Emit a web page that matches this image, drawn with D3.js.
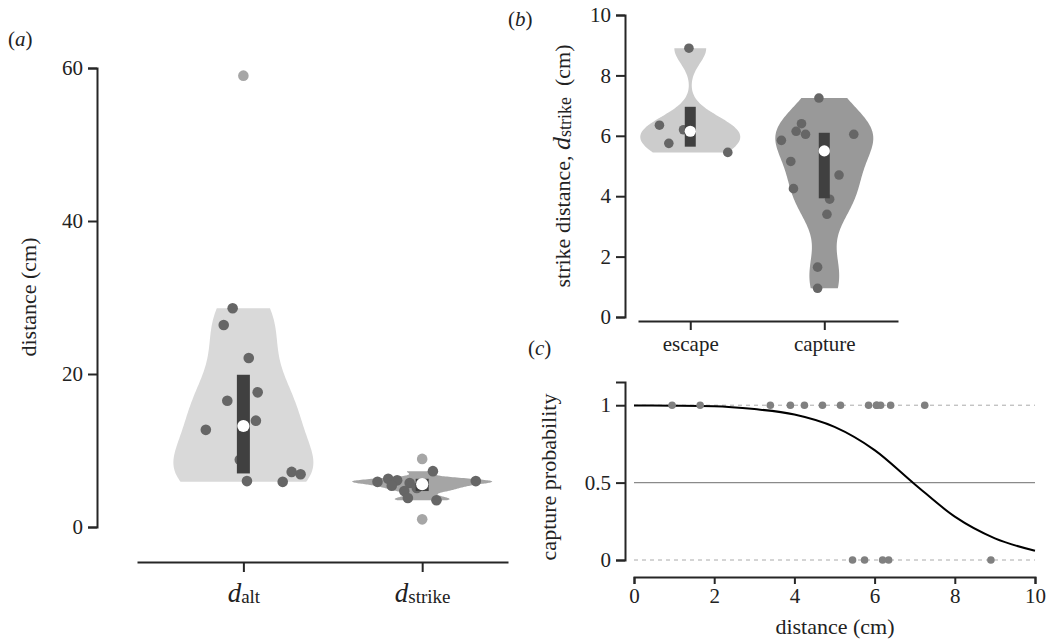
<!DOCTYPE html>
<html>
<head>
<meta charset="utf-8">
<script src="https://cdn.jsdelivr.net/npm/d3@7"></script>
<style>
  body { margin: 0; background: #fff; }
</style>
</head>
<body>
<div id="chart"></div>
<script>
// ---- panel (a): all distances ----
const altValues   = [28.6, 26.4, 22.1, 17.6, 16.5, 13.9, 12.7, 8.8, 6.0, 5.9, 7.2, 6.9];
const altJitter   = [-0.06, -0.11, 0.03, 0.08, -0.09, 0.07, -0.21, -0.02, 0.02, 0.22, 0.27, 0.32];
const altOutliers = [59.0];
const strikeValues   = [7.3, 5.9, 6.3, 6.1, 5.4, 5.75, 4.7, 3.8, 5.1, 3.5, 6.0];
const strikeJitter   = [0.06, -0.25, -0.19, -0.14, -0.17, -0.07, -0.10, -0.08, -0.03, 0.08, 0.30];
const strikeOutliers = [8.9, 1.0];
// box stats: [q1, median, q3]
const altBox    = [7.0, 13.2, 19.9];
const strikeBox = [4.7, 5.6, 6.3];
const aTicks = [0, 20, 40, 60];

// ---- panel (b): strike distance by outcome ----
const outcomes = ["escape", "capture"];
const escapeValues  = [8.9, 6.35, 5.75, 6.2, 5.45];
const escapeJitter  = [-0.01, -0.23, -0.16, -0.05, 0.28];
const captureValues = [7.25, 6.4, 6.15, 6.05, 5.85, 5.15, 4.25, 4.7, 3.9, 3.4, 1.65, 0.95, 6.05];
const captureJitter = [-0.04, -0.17, -0.21, -0.14, -0.32, -0.25, -0.23, 0.11, 0.04, 0.02, -0.05, -0.05, 0.22];
const escapeBox  = [5.64, 6.15, 6.96];
const captureBox = [3.93, 5.5, 6.1];
const bTicks = [0, 2, 4, 6, 8, 10];

// ---- panel (c): capture probability vs distance ----
const curveDist = [0, 1, 2, 3, 4, 5, 6, 7, 8, 9, 10];
const curveProb = [0.998, 0.997, 0.994, 0.975, 0.94, 0.86, 0.71, 0.49, 0.28, 0.14, 0.06];
const cYTicks = [0, 0.5, 1];
const cXTicks = [0, 2, 4, 6, 8, 10];

const serif = "'Liberation Serif', 'DejaVu Serif', 'Times New Roman', Times, serif";

const svg = d3.select("#chart").append("svg")
    .attr("width", 1053)
    .attr("height", 640)
    .style("font-family", serif);

const dark = "#262626";

function styleAxis(g) {
    g.attr("font-family", serif).attr("font-size", null);
    g.select(".domain").attr("stroke", dark).attr("stroke-width", 2);
    g.selectAll(".tick line").attr("stroke", dark).attr("stroke-width", 2);
    g.selectAll(".tick text").attr("font-size", 21).attr("fill", "#222");
}

// gaussian kde between min and max of the data, scaled to a max half width
function violinPath(values, bw, halfW, x, y, idx) {
    const [lo, hi] = d3.extent(values);
    const pts = d3.range(81).map(i => {
        const v = lo + (hi - lo) * i / 80;
        return { v: v, d: d3.sum(values, s => Math.exp(-0.5 * ((v - s) / bw) ** 2)) };
    });
    const m = d3.max(pts, p => p.d);
    return d3.area()
        .y(p => y(p.v))
        .x0(p => x(idx) - p.d / m * halfW)
        .x1(p => x(idx) + p.d / m * halfW)
        .curve(d3.curveCatmullRom)(pts);
}

function drawGroup(g, x, y, idx, values, jitter, outliers, box, opt) {
    g.append("path")
        .attr("d", violinPath(values, opt.bw, opt.halfW, x, y, idx))
        .attr("fill", opt.fill);
    g.selectAll(null)
        .data(outliers)
        .enter()
        .append("circle")
        .attr("cx", x(idx))
        .attr("cy", d => y(d))
        .attr("r", opt.r)
        .attr("fill", "#a6a6a6");
    g.selectAll(null)
        .data(values)
        .enter()
        .append("circle")
        .attr("cx", (d, i) => x(idx + jitter[i]))
        .attr("cy", d => y(d))
        .attr("r", opt.r)
        .attr("fill", "#666");
    g.append("rect")
        .attr("x", x(idx) - opt.boxW / 2)
        .attr("width", opt.boxW)
        .attr("y", y(box[2]))
        .attr("height", y(box[0]) - y(box[2]))
        .attr("fill", "#404040");
    g.append("circle")
        .attr("cx", x(idx))
        .attr("cy", y(box[1]))
        .attr("r", opt.r + 0.8)
        .attr("fill", "#fff");
}

function panelLetter(x, y, letter) {
    const t = svg.append("text").attr("x", x).attr("y", y)
        .attr("font-size", 21).attr("fill", "#222");
    t.append("tspan").text("(");
    t.append("tspan").attr("font-style", "italic").text(letter);
    t.append("tspan").text(")");
}

function axisTitle(transform, str) {
    return svg.append("text")
        .attr("transform", transform)
        .attr("text-anchor", "middle")
        .attr("font-size", 22)
        .attr("fill", "#222")
        .text(str);
}

// ================= panel (a) =================
const xA = d3.scaleLinear().domain([-0.595, 1.48]).range([137, 508]);
const yA = d3.scaleLinear().domain([0, 60]).range([527, 68]);
const gA = svg.append("g");

drawGroup(gA, xA, yA, 0, altValues, altJitter, altOutliers, altBox,
    { bw: 4, halfW: 70, fill: "#d9d9d9", r: 5.3, boxW: 13 });
drawGroup(gA, xA, yA, 1, strikeValues, strikeJitter, strikeOutliers, strikeBox,
    { bw: 0.35, halfW: 70, fill: "#a5a5a5", r: 5.3, boxW: 13 });

gA.append("g")
    .attr("transform", "translate(97,0)")
    .call(d3.axisLeft(yA).tickValues(aTicks).tickSize(9).tickPadding(5))
    .call(styleAxis);

const axA = gA.append("g")
    .attr("transform", "translate(0,562)")
    .call(d3.axisBottom(xA).tickValues([0, 1]).tickSize(10).tickSizeOuter(0).tickFormat(""))
    .call(styleAxis);
const aSubs = ["alt", "strike"];
axA.selectAll(".tick").append("text")
    .attr("y", 40)
    .attr("text-anchor", "middle")
    .attr("fill", "#222")
    .each(function(d) {
        const t = d3.select(this);
        t.append("tspan").attr("font-style", "italic").attr("font-size", 27).text("d");
        t.append("tspan").attr("font-size", 19).attr("dy", 1).text(aSubs[d]);
    });

axisTitle("translate(36,297) rotate(-90)", "distance (cm)");
panelLetter(8, 46, "a");

// ================= panel (b) =================
const xB = d3.scaleLinear().domain([-0.39, 1.55]).range([638, 898]);
const yB = d3.scaleLinear().domain([0, 10]).range([317, 15]);
const gB = svg.append("g");

drawGroup(gB, xB, yB, 0, escapeValues, escapeJitter, [], escapeBox,
    { bw: 0.5, halfW: 50, fill: "#cccccc", r: 4.8, boxW: 11 });
drawGroup(gB, xB, yB, 1, captureValues, captureJitter, [], captureBox,
    { bw: 0.8, halfW: 49, fill: "#999999", r: 4.8, boxW: 11 });

gB.append("g")
    .attr("transform", "translate(625,0)")
    .call(d3.axisLeft(yB).tickValues(bTicks).tickSize(9).tickPadding(5))
    .call(styleAxis);

gB.append("g")
    .attr("transform", "translate(0,321)")
    .call(d3.axisBottom(xB).tickValues([0, 1]).tickSize(9).tickSizeOuter(0).tickPadding(6)
        .tickFormat(i => outcomes[i]))
    .call(styleAxis);

const bLabel = axisTitle("translate(570,166) rotate(-90)", null);
bLabel.append("tspan").text("strike distance, ");
bLabel.append("tspan").attr("font-style", "italic").attr("font-size", 26).text("d");
bLabel.append("tspan").attr("font-size", 18).attr("dy", 1).text("strike");
bLabel.append("tspan").attr("dy", -1).text(" \u00a0(cm)");

panelLetter(508, 26, "b");

// ================= panel (c) =================
const xC = d3.scaleLinear().domain([0, 10]).range([634, 1035]);
const yC = d3.scaleLinear().domain([0, 1.15]).range([560, 382]);
const gC = svg.append("g");

[0, 1].forEach(v => {
    gC.append("line")
        .attr("x1", xC(0)).attr("x2", xC(10))
        .attr("y1", yC(v)).attr("y2", yC(v))
        .attr("stroke", "#aaa")
        .attr("stroke-width", 1)
        .attr("stroke-dasharray", "4,4");
});
gC.append("line")
    .attr("x1", xC(0)).attr("x2", xC(10))
    .attr("y1", yC(0.5)).attr("y2", yC(0.5))
    .attr("stroke", "#8a8a8a")
    .attr("stroke-width", 1.4);

gC.append("path")
    .datum(curveDist.map((d, i) => [d, curveProb[i]]))
    .attr("fill", "none")
    .attr("stroke", "#000")
    .attr("stroke-width", 2)
    .attr("d", d3.line().x(d => xC(d[0])).y(d => yC(d[1])).curve(d3.curveMonotoneX));

gC.selectAll(null)
    .data(captureValues.map(v => [v, 1]).concat(escapeValues.map(v => [v, 0])))
    .enter()
    .append("circle")
    .attr("cx", d => xC(d[0]))
    .attr("cy", d => yC(d[1]))
    .attr("r", 3.8)
    .attr("fill", "#808080");

gC.append("g")
    .attr("transform", "translate(625,0)")
    .call(d3.axisLeft(yC).tickValues(cYTicks).tickSize(9).tickPadding(5)
        .tickFormat(d3.format("~g")))
    .call(styleAxis);

gC.append("g")
    .attr("transform", "translate(0,577)")
    .call(d3.axisBottom(xC).tickValues(cXTicks).tickSize(7).tickPadding(4))
    .call(styleAxis);

axisTitle("translate(556,477) rotate(-90)", "capture probability");
svg.append("text")
    .attr("x", 835)
    .attr("y", 634)
    .attr("text-anchor", "middle")
    .attr("font-size", 22)
    .attr("fill", "#222")
    .text("distance (cm)");

panelLetter(528, 355, "c");
</script>
</body>
</html>
